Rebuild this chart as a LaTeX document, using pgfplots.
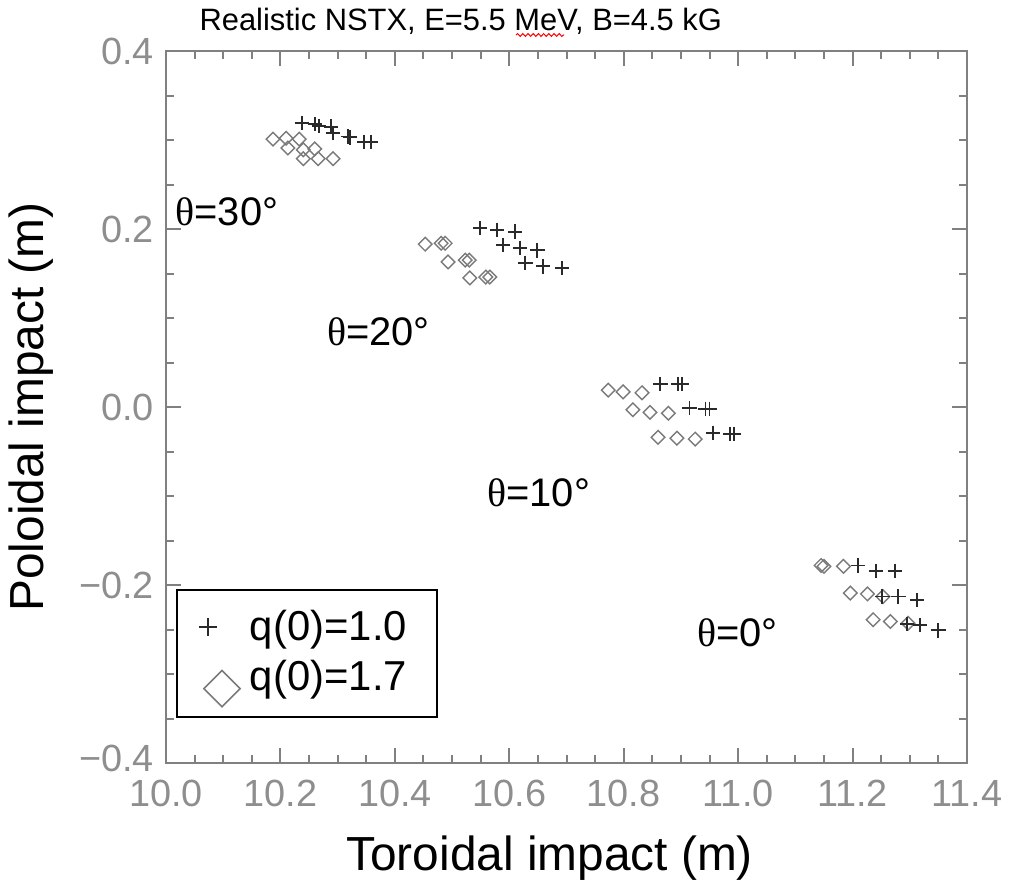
\documentclass[border=0pt]{standalone}
\usepackage{fontspec}
\setmainfont{Liberation Sans}
\newfontfamily\seriffont{Liberation Serif}
\usepackage{pgfplots}
\pgfplotsset{compat=1.18}
\usepackage{pgfplotstable}
\usetikzlibrary{decorations.pathmorphing}
\definecolor{axgray}{HTML}{808080}
\definecolor{lblgray}{HTML}{8E8E8E}
\definecolor{dmgray}{HTML}{7A7A7A}
\definecolor{plgray}{HTML}{2A2A2A}

% q(0)=1.0 (plus markers)
\pgfplotstableread{
x y
10.238 0.319
10.260 0.318
10.267 0.316
10.288 0.315
10.292 0.308
10.318 0.304
10.322 0.303
10.346 0.298
10.358 0.298
10.549 0.201
10.579 0.199
10.610 0.197
10.589 0.182
10.619 0.179
10.649 0.176
10.628 0.162
10.659 0.158
10.692 0.156
10.864 0.026
10.895 0.026
10.902 0.026
10.915 -0.001
10.943 -0.002
10.950 -0.002
10.956 -0.029
10.986 -0.030
10.993 -0.030
11.210 -0.178
11.241 -0.184
11.274 -0.184
11.252 -0.213
11.280 -0.213
11.313 -0.217
11.295 -0.244
11.318 -0.245
11.350 -0.251
}\plusdata

% q(0)=1.7 (diamond markers)
\pgfplotstableread{
x y
10.187 0.301
10.210 0.302
10.233 0.301
10.213 0.291
10.240 0.289
10.260 0.290
10.240 0.279
10.266 0.279
10.292 0.279
10.453 0.183
10.481 0.184
10.488 0.184
10.493 0.163
10.523 0.165
10.530 0.165
10.531 0.145
10.559 0.146
10.566 0.146
10.773 0.019
10.799 0.017
10.832 0.016
10.816 -0.003
10.846 -0.006
10.878 -0.007
10.860 -0.034
10.893 -0.035
10.925 -0.036
11.145 -0.178
11.150 -0.179
11.184 -0.179
11.196 -0.209
11.226 -0.210
11.253 -0.213
11.236 -0.239
11.266 -0.241
11.297 -0.243
}\diamdata

\begin{document}
\begin{tikzpicture}
\path[use as bounding box] (-83bp,-60.5bp) rectangle (425.5bp,381.5bp);
\begin{axis}[
  at={(0,0)}, anchor=south west,
  scale only axis, width=400.5bp, height=356bp,
  xmin=10, xmax=11.4, ymin=-0.4, ymax=0.4,
  xtick={10,10.2,10.4,10.6,10.8,11,11.2,11.4},
  xticklabels={10.0,10.2,10.4,10.6,10.8,11.0,11.2,11.4},
  ytick={-0.4,-0.2,0,0.2,0.4},
  yticklabels={\raisebox{4.5bp}{−0.4},−0.2,0.0,0.2,\raisebox{-6bp}{0.4}},
  minor tick num=3,
  tick align=inside,
  major tick length=7.5bp, minor tick length=4bp,
  axis line style={axgray, line width=1bp},
  tick style={axgray, line width=1bp},
  xticklabel style={font=\fontsize{19}{19}\selectfont, text=lblgray, yshift=-5bp},
  yticklabel style={font=\fontsize{19}{19}\selectfont, text=lblgray, xshift=-2.5bp},
  xlabel={Toroidal impact (m)},
  ylabel={Poloidal impact (m)},
  xlabel style={at={(axis description cs:0.479,-0.133)}, anchor=center, font=\fontsize{24}{28}\selectfont},
  ylabel style={at={(axis description cs:-0.168,0.5)}, anchor=center, font=\fontsize{24}{28}\selectfont},
  title={Realistic NSTX, E=5.5 MeV, B=4.5 kG},
  title style={at={(axis description cs:0.368,1)}, anchor=base, yshift=4.5bp, font=\fontsize{15.5}{18}\selectfont},
  legend style={at={(axis description cs:0.0125,0.244)}, anchor=north west, draw=black, line width=1bp,
    font=\fontsize{21}{25}\selectfont, fill=white, inner xsep=3bp, inner ysep=5bp, row sep=4bp},
  legend cell align=left,
]
\addplot[only marks, mark=square, mark size=2.4bp, mark options={rotate=45, draw=dmgray, line width=0.7bp, fill=none}, forget plot] table {\diamdata};
\addplot[only marks, mark=+, mark size=3.6bp, mark options={draw=plgray, line width=0.9bp}, forget plot] table {\plusdata};

\addlegendimage{legend image code/.code={
  \path (0bp,0bp) (30.5bp,13bp);
  \draw[plgray, line width=0.9bp, mark=+, mark size=4.5bp, only marks] plot coordinates {(12bp,0bp)};}}
\addlegendentry{q(0)=1.0\kern10bp\null}
\addlegendimage{legend image code/.code={
  \path (0bp,0bp) (30.5bp,0bp);
  \draw[dmgray, line width=0.8bp, mark=square, mark size=6.4bp, mark options={rotate=45}, only marks] plot coordinates {(19bp,-6bp)};}}
\addlegendentry{q(0)=1.7\kern10bp\null}

\node[anchor=west, inner sep=0pt, font=\fontsize{20}{24}\selectfont] at (axis cs:10.016,0.219) {{\seriffont θ}=30°};
\node[anchor=west, inner sep=0pt, font=\fontsize{20}{24}\selectfont] at (axis cs:10.281,0.084) {{\seriffont θ}=20°};
\node[anchor=west, inner sep=0pt, font=\fontsize{20}{24}\selectfont] at (axis cs:10.561,-0.096) {{\seriffont θ}=10°};
\node[anchor=west, inner sep=0pt, font=\fontsize{20}{24}\selectfont] at (axis cs:10.928,-0.254) {{\seriffont θ}=0°};
\end{axis}
\draw[red, line width=0.5bp, decorate, decoration={snake, amplitude=0.7bp, segment length=2.6bp}] (175bp,364bp) -- (199bp,364bp);
\end{tikzpicture}
\end{document}
